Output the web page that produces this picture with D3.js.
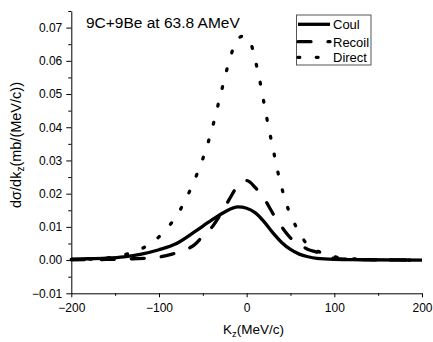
<!DOCTYPE html>
<meta charset="utf-8">
<style>
body { margin: 0; background: #fff; }
text { font-family: Arial, "Liberation Sans", sans-serif; }
</style>
<body>
<script src="https://d3js.org/d3.v7.min.js"></script>
<script>
var width = 433,
    height = 342;

// data
var coulK   = [-200, -180, -160, -140, -120, -100, -80, -60, -40, -25, -10, 0, 10, 20, 30, 40, 50, 60, 70, 80, 100, 130, 200];
var coulV   = [0.0003, 0.0004, 0.0006, 0.0010, 0.0018, 0.0031, 0.0050, 0.0084, 0.0120, 0.0145, 0.0160, 0.0156, 0.0142, 0.0115, 0.0082, 0.0053, 0.0032, 0.0018, 0.0010, 0.0005, 0.0002, 0.0001, 0.0000];
var recoilK = [-200, -160, -130, -110, -100, -85, -70, -60, -50, -40, -30, -20, -10, 0, 10, 20, 30, 40, 50, 60, 70, 80, 90, 100, 120, 150, 200];
var recoilV = [0.0001, 0.0002, 0.0004, 0.0006, 0.0009, 0.0018, 0.0031, 0.0045, 0.0072, 0.0098, 0.0137, 0.0182, 0.0224, 0.0239, 0.0218, 0.0185, 0.0140, 0.0100, 0.0067, 0.0048, 0.0032, 0.0024, 0.0014, 0.0005, 0.0002, 0.0001, 0.0000];
var directK = [-200, -180, -160, -140, -120, -100, -90, -80, -70, -60, -50, -40, -30, -20, -10, -3, 5, 10, 15, 20, 25, 30, 35, 40, 45, 50, 55, 60, 70, 80, 90, 100, 120, 150, 200];
var directV = [0.0002, 0.0003, 0.0006, 0.0016, 0.0034, 0.0070, 0.0098, 0.0133, 0.0180, 0.0238, 0.0305, 0.0390, 0.0495, 0.0598, 0.0667, 0.0675, 0.0650, 0.0600, 0.0540, 0.0470, 0.0400, 0.0337, 0.0272, 0.0218, 0.0172, 0.0136, 0.0108, 0.0082, 0.0045, 0.0028, 0.0018, 0.0010, 0.0004, 0.0001, 0.0000];

var xTicks = [-200, -100, 0, 100, 200];
var xMinor = [-150, -50, 50, 150];
var yTicks = [-0.01, 0.00, 0.01, 0.02, 0.03, 0.04, 0.05, 0.06, 0.07];
var yMinor = [-0.005, 0.005, 0.015, 0.025, 0.035, 0.045, 0.055, 0.065, 0.075];

var title = "9C+9Be at 63.8 AMeV";
var seriesNames = ["Coul", "Recoil", "Direct"];

var x = d3.scaleLinear().domain([-200, 200]).range([71.3, 422]);
var y = d3.scaleLinear().domain([-0.01, 0.075]).range([293.3, 11]);

var svg = d3.select("body").append("svg")
    .attr("width", width)
    .attr("height", height);

function pts(ks, vs) { return ks.map(function(k, i) { return [k, vs[i]]; }); }

var line = d3.line()
    .x(function(d) { return x(d[0]); })
    .y(function(d) { return y(d[1]); })
    .curve(d3.curveMonotoneX);

var styles = [
  {dash: null, cap: "butt"},
  {dash: "13 17", cap: "round"},
  {dash: "1.8 16.5", cap: "round"}
];
var series = [pts(coulK, coulV), pts(recoilK, recoilV), pts(directK, directV)];

series.forEach(function(s, i) {
  svg.append("path")
      .attr("d", line(s))
      .attr("fill", "none")
      .attr("stroke", "#000")
      .attr("stroke-width", 3.3)
      .attr("stroke-linecap", styles[i].cap)
      .attr("stroke-dasharray", styles[i].dash);
});

// axes
var gx = svg.append("g").attr("transform", "translate(0," + y.range()[0] + ")");
gx.call(d3.axisBottom(x).tickValues(xTicks).tickSize(4).tickSizeOuter(0).tickPadding(6).tickFormat(d3.format("d")));
gx.append("g").call(d3.axisBottom(x).tickValues(xMinor).tickSize(2.5).tickFormat(""))
  .select(".domain").remove();

var gy = svg.append("g").attr("transform", "translate(" + x.range()[0] + ",0)");
gy.call(d3.axisLeft(y).tickValues(yTicks).tickSize(5).tickSizeOuter(0).tickPadding(4).tickFormat(d3.format(".2f")));
gy.append("g").call(d3.axisLeft(y).tickValues(yMinor).tickSize(3).tickFormat(""))
  .select(".domain").remove();

svg.selectAll(".tick text").attr("font-size", 12).attr("font-family", "Arial, 'Liberation Sans', sans-serif").attr("fill", "#000");
svg.selectAll(".domain, .tick line").attr("stroke", "#000");

// axis titles
var xl = svg.append("text")
    .attr("x", 253.5)
    .attr("y", 334)
    .attr("text-anchor", "middle")
    .attr("font-size", 13.5);
xl.append("tspan").text("K");
xl.append("tspan").attr("font-size", 9.5).attr("dy", 3).text("z");
xl.append("tspan").attr("dy", -3).text("(MeV/c)");

var yl = svg.append("text")
    .attr("transform", "translate(21,145) rotate(-90)")
    .attr("text-anchor", "middle")
    .attr("font-size", 14.5);
yl.append("tspan").text("d\u03c3/dk");
yl.append("tspan").attr("font-size", 10).attr("dy", 3).text("z");
yl.append("tspan").attr("dy", -3).text("(mb/(MeV/c))");

svg.append("text")
    .attr("x", 86)
    .attr("y", 28)
    .attr("font-size", 15.5)
    .text(title);

// legend
var lg = svg.append("g");
lg.append("rect")
    .attr("x", 296.5).attr("y", 15)
    .attr("width", 74.5).attr("height", 50)
    .attr("fill", "#fff")
    .attr("stroke", "#555")
    .attr("stroke-width", 1);
var legY = [24.3, 41.7, 57.3];
seriesNames.forEach(function(name, i) {
  lg.append("path")
      .attr("d", "M298," + legY[i] + "H330")
      .attr("stroke", "#000")
      .attr("stroke-width", 3.3)
      .attr("stroke-linecap", styles[i].cap)
      .attr("stroke-dasharray", styles[i].dash);
  lg.append("text")
      .attr("x", 333)
      .attr("y", legY[i] + 5)
      .attr("font-size", 13)
      .text(name);
});
</script>
</body>
